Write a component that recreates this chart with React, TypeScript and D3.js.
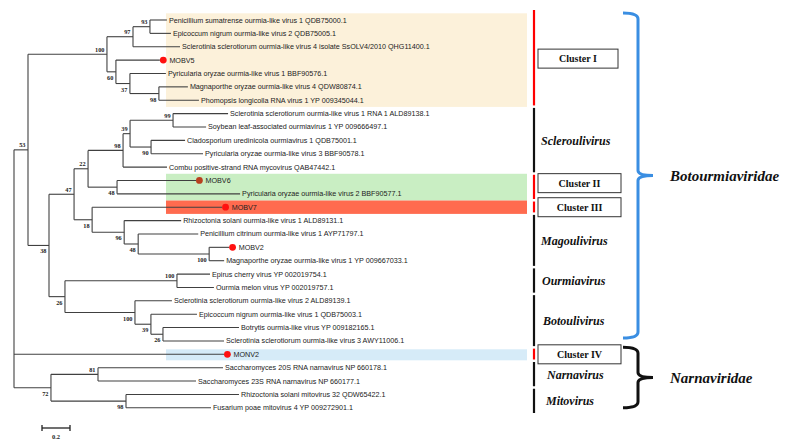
import React from "react";
import * as d3 from "d3";

const W = 789;
const H = 446;

// Phylogenetic tree: each row = one branch (child id, parent id, branch length, bootstrap, label side)
const treeNodes = [
  { id: "root", parent: null, len: 0 },
  { id: "n53", parent: "root", len: 0.1, boot: "53", pos: "a" },
  { id: "n100a", parent: "n53", len: 0.564, boot: "100", pos: "a" },
  { id: "n97", parent: "n100a", len: 0.186, boot: "97", pos: "a" },
  { id: "n93", parent: "n97", len: 0.121, boot: "93", pos: "a" },
  { id: "Penicillium sumatrense ourmia-like virus 1 QDB75000.1", parent: "n93", len: 0.121 },
  { id: "Epicoccum nigrum ourmia-like virus 2 QDB75005.1", parent: "n93", len: 0.15 },
  { id: "Sclerotinia sclerotiorum ourmia-like virus 4 isolate SsOLV4/2010 QHG11400.1", parent: "n97", len: 0.336 },
  { id: "n60", parent: "n100a", len: 0.064, boot: "60", pos: "b" },
  { id: "MOBV5", parent: "n60", len: 0.314 },
  { id: "n37", parent: "n60", len: 0.1, boot: "37", pos: "b" },
  { id: "Pyricularia oryzae ourmia-like virus 1 BBF90576.1", parent: "n37", len: 0.257 },
  { id: "n98a", parent: "n37", len: 0.207, boot: "98", pos: "b" },
  { id: "Magnaporthe oryzae ourmia-like virus 4 QDW80874.1", parent: "n98a", len: 0.207 },
  { id: "Phomopsis longicolla RNA virus 1 YP 009345044.1", parent: "n98a", len: 0.286 },
  { id: "n38", parent: "n53", len: 0.15, boot: "38", pos: "b" },
  { id: "n47", parent: "n38", len: 0.179, boot: "47", pos: "a" },
  { id: "n22", parent: "n47", len: 0.1, boot: "22", pos: "a" },
  { id: "n98c", parent: "n22", len: 0.25, boot: "98", pos: "a" },
  { id: "n39a", parent: "n98c", len: 0.05, boot: "39", pos: "a" },
  { id: "n99", parent: "n39a", len: 0.307, boot: "99", pos: "a" },
  { id: "Sclerotinia sclerotiorum ourmia-like virus 1 RNA 1 ALD89138.1", parent: "n99", len: 0.393 },
  { id: "Soybean leaf-associated ourmiavirus 1 YP 009666497.1", parent: "n99", len: 0.236 },
  { id: "n90", parent: "n39a", len: 0.15, boot: "90", pos: "b" },
  { id: "Cladosporium uredinicola ourmiavirus 1 QDB75001.1", parent: "n90", len: 0.243 },
  { id: "Pyricularia oryzae ourmia-like virus 3 BBF90578.1", parent: "n90", len: 0.371 },
  { id: "Combu positive-strand RNA mycovirus QAB47442.1", parent: "n98c", len: 0.314 },
  { id: "n48a", parent: "n22", len: 0.207, boot: "48", pos: "b" },
  { id: "MOBV6", parent: "n48a", len: 0.564 },
  { id: "Pyricularia oryzae ourmia-like virus 2 BBF90577.1", parent: "n48a", len: 0.879 },
  { id: "n18", parent: "n47", len: 0.129, boot: "18", pos: "b" },
  { id: "MOBV7", parent: "n18", len: 0.929 },
  { id: "n96", parent: "n18", len: 0.229, boot: "96", pos: "b" },
  { id: "Rhizoctonia solani ourmia-like virus 1 ALD89131.1", parent: "n96", len: 0.407 },
  { id: "n48b", parent: "n96", len: 0.1, boot: "48", pos: "b" },
  { id: "Penicillium citrinum ourmia-like virus 1 AYP71797.1", parent: "n48b", len: 0.429 },
  { id: "n100b", parent: "n48b", len: 0.507, boot: "100", pos: "b" },
  { id: "MOBV2", parent: "n100b", len: 0.143 },
  { id: "Magnaporthe oryzae ourmia-like virus 1 YP 009667033.1", parent: "n100b", len: 0.107 },
  { id: "n26a", parent: "n38", len: 0.114, boot: "26", pos: "b" },
  { id: "n100c", parent: "n26a", len: 0.8, boot: "100", pos: "a" },
  { id: "Epirus cherry virus YP 002019754.1", parent: "n100c", len: 0.236 },
  { id: "Ourmia melon virus YP 002019757.1", parent: "n100c", len: 0.264 },
  { id: "n100d", parent: "n26a", len: 0.5, boot: "100", pos: "b" },
  { id: "Sclerotinia sclerotiorum ourmia-like virus 2 ALD89139.1", parent: "n100d", len: 0.264 },
  { id: "n39b", parent: "n100d", len: 0.114, boot: "39", pos: "b" },
  { id: "Epicoccum nigrum ourmia-like virus 1 QDB75003.1", parent: "n39b", len: 0.329 },
  { id: "n26b", parent: "n39b", len: 0.086, boot: "26", pos: "b" },
  { id: "Botrytis ourmia-like virus YP 009182165.1", parent: "n26b", len: 0.543 },
  { id: "Sclerotinia sclerotiorum ourmia-like virus 3 AWY11006.1", parent: "n26b", len: 0.436 },
  { id: "MONV2", parent: "root", len: 1.5 },
  { id: "n72", parent: "root", len: 0.264, boot: "72", pos: "b" },
  { id: "n81", parent: "n72", len: 0.336, boot: "81", pos: "a" },
  { id: "Saccharomyces 20S RNA narnavirus NP 660178.1", parent: "n81", len: 0.893 },
  { id: "Saccharomyces 23S RNA narnavirus NP 660177.1", parent: "n81", len: 0.7 },
  { id: "n98b", parent: "n72", len: 0.536, boot: "98", pos: "b" },
  { id: "Rhizoctonia solani mitovirus 32 QDW65422.1", parent: "n98b", len: 0.807 },
  { id: "Fusarium poae mitovirus 4 YP 009272901.1", parent: "n98b", len: 0.607 },
];

// novel viruses marked with a dot
const novelViruses = ["MOBV5", "MOBV6", "MOBV7", "MOBV2", "MONV2"];
const novelDotColors = ["#ff1010", "#b8401f", "#ff1010", "#ff1010", "#ff1010"];

// highlighted clusters (leaf row ranges)
const clusterNames = ["Cluster I", "Cluster II", "Cluster III", "Cluster IV"];
const clusterRows = [[0, 6], [12, 13], [14, 14], [25, 25]];
const clusterFills = ["#fcf1da", "#c9eec3", "#ff6b4f", "#d6ebf8"];

// genus groups on the right (leaf row ranges)
const genusNames = ["Scleroulivirus", "Magoulivirus", "Ourmiavirus", "Botoulivirus", "Narnavirus", "Mitovirus"];
const genusRows = [[7, 11], [15, 18], [19, 20], [21, 24], [26, 27], [28, 29]];

// families with braces
const familyNames = ["Botourmiaviridae", "Narnaviridae"];
const familyRows = [[0, 24], [25, 29]];
const familyColors = ["#3a8ee2", "#111111"];

const scaleBarValue = 0.2;

export default function App() {
  const root = d3
    .stratify<any>()
    .id((d: any) => d.id)
    .parentId((d: any) => d.parent)(treeNodes as any);

  const x = d3.scaleLinear().domain([0, 1]).range([14, 154]);
  const leaves = root.leaves();
  const y = d3.scaleLinear().domain([0, leaves.length - 1]).range([20, 407.8]);

  const pos = new Map<any, { x: number; y: number; d: number }>();
  root.eachBefore((n: any) => {
    const d = n.parent ? pos.get(n.parent)!.d + n.data.len : 0;
    pos.set(n, { x: x(d), y: 0, d });
  });
  leaves.forEach((l: any, i: number) => {
    pos.get(l)!.y = y(i);
  });
  root.eachAfter((n: any) => {
    if (n.children) {
      const c = n.children;
      pos.get(n)!.y = (pos.get(c[0])!.y + pos.get(c[c.length - 1])!.y) / 2;
    }
  });

  const lineColor = "#404040";
  const branches: JSX.Element[] = [];
  const boots: JSX.Element[] = [];
  const labels: JSX.Element[] = [];

  root.each((n: any) => {
    const p = pos.get(n)!;
    if (n.parent) {
      const pp = pos.get(n.parent)!;
      branches.push(
        <line key={"h" + n.id} x1={pp.x} x2={p.x} y1={p.y} y2={p.y} stroke={lineColor} strokeWidth={1.1} />
      );
    }
    if (n.children) {
      const c = n.children;
      branches.push(
        <line
          key={"v" + n.id}
          x1={p.x}
          x2={p.x}
          y1={pos.get(c[0])!.y}
          y2={pos.get(c[c.length - 1])!.y}
          stroke={lineColor}
          strokeWidth={1.1}
        />
      );
      if (n.data.boot) {
        boots.push(
          <text
            key={"b" + n.id}
            x={p.x - 2.5}
            y={n.data.pos === "a" ? p.y - 2.5 : p.y + 8}
            textAnchor="end"
            fontFamily="'Liberation Serif', serif"
            fontWeight="bold"
            fontSize={6.3}
            fill="#222"
          >
            {n.data.boot}
          </text>
        );
      }
    } else {
      const ni = novelViruses.indexOf(n.id);
      if (ni >= 0) {
        labels.push(
          <g key={"l" + n.id}>
            <circle cx={p.x + 3.4} cy={p.y} r={3.4} fill={novelDotColors[ni]} />
            <text
              x={p.x + 9.5}
              y={p.y}
              dy="0.35em"
              fontFamily="'Liberation Sans', Arial, sans-serif"
              fontSize={7.2}
              fill="#222"
            >
              {n.id}
            </text>
          </g>
        );
      } else {
        labels.push(
          <text
            key={"l" + n.id}
            x={p.x + 2}
            y={p.y}
            dy="0.35em"
            fontFamily="'Liberation Sans', Arial, sans-serif"
            fontSize={7.2}
            fill="#222"
          >
            {n.id}
          </text>
        );
      }
    }
  });

  const rowH = y(1) - y(0);
  const bandX0 = 166;
  const bandX1 = 527;
  const barX = 534;
  const boxX0 = 538;

  // group bars (clusters red, genera black)
  const bars: { r: number[]; color: string }[] = [
    ...clusterRows.map((r) => ({ r, color: "#ff0000" })),
    ...genusRows.map((r) => ({ r, color: "#111" })),
  ];

  const bracePath = (top: number, bot: number) => {
    const x0 = 623;
    const xv = 638;
    const xt = 653;
    const mid = (top + bot) / 2;
    return `M${x0},${top} Q${xv},${top} ${xv},${top + 6} L${xv},${mid - 5} Q${xv},${mid} ${xt},${mid} M${xv},${mid - 5} Q${xv},${mid} ${xt},${mid} Q${xv},${mid} ${xv},${mid + 5} L${xv},${bot - 6} Q${xv},${bot} ${x0},${bot}`;
  };

  const sb0 = 42;
  const sb1 = sb0 + (x(scaleBarValue) - x(0));

  return (
    <svg
      width={W}
      height={H}
      style={{ position: "absolute", left: 0, top: 0, background: "#fff", display: "block" }}
    >
      <rect x={0} y={0} width={W} height={H} fill="#fff" />
      {/* highlight bands */}
      {clusterRows.map((r, i) => {
        const pad = i === 3 ? 5 : rowH / 2;
        return (
          <rect
            key={"band" + i}
            x={bandX0}
            y={y(r[0]) - pad}
            width={bandX1 - bandX0}
            height={y(r[1]) - y(r[0]) + pad * 2 + (i === 3 ? 1 : 0)}
            fill={clusterFills[i]}
          />
        );
      })}
      <g>{branches}</g>
      <g>{boots}</g>
      <g>{labels}</g>

      {/* right-side bars */}
      {bars.map((b, i) => {
        const top = i === 0 ? y(b.r[0]) - 10 : y(b.r[0]) - rowH / 2 + 1;
        const bot = y(b.r[1]) + rowH / 2 - 1.5;
        return <line key={"bar" + i} x1={barX} x2={barX} y1={top} y2={bot} stroke={b.color} strokeWidth={2.2} />;
      })}

      {/* cluster boxes */}
      {clusterNames.map((name, i) => {
        const r = clusterRows[i];
        const cy = (y(r[0]) + y(r[1])) / 2 - (i === 1 ? 4 : 0) - (i === 0 ? 1.5 : 0);
        const w = i === 0 ? 80 : 83;
        return (
          <g key={"box" + i}>
            <rect x={boxX0} y={cy - 9.5} width={w} height={19} fill="#fff" stroke="#333" strokeWidth={1} />
            <text
              x={boxX0 + w / 2}
              y={cy}
              dy="0.35em"
              textAnchor="middle"
              fontFamily="'Liberation Serif', 'Times New Roman', serif"
              fontWeight="bold"
              fontSize={10}
              fill="#111"
            >
              {name}
            </text>
          </g>
        );
      })}

      {/* genus labels */}
      {genusNames.map((name, i) => {
        const r = genusRows[i];
        const cy = (y(r[0]) + y(r[1])) / 2;
        const gx = [541, 541, 542, 543, 547, 546][i];
        return (
          <text
            key={"g" + i}
            x={gx}
            y={cy}
            dy="0.35em"
            fontFamily="'Liberation Serif', 'Times New Roman', serif"
            fontWeight="bold"
            fontStyle="italic"
            fontSize={12}
            fill="#111"
          >
            {name}
          </text>
        );
      })}

      {/* family braces */}
      {familyNames.map((name, i) => {
        const r = familyRows[i];
        const top = y(r[0]) - 7;
        const bot = i === 0 ? y(r[1]) - 3 : y(r[1]);
        const mid = (top + bot) / 2;
        return (
          <g key={"f" + i}>
            <path d={bracePath(top, bot)} fill="none" stroke={familyColors[i]} strokeWidth={3} />
            <text
              x={670}
              y={mid}
              dy="0.35em"
              fontFamily="'Liberation Serif', 'Times New Roman', serif"
              fontWeight="bold"
              fontStyle="italic"
              fontSize={15}
              fill="#111"
            >
              {name}
            </text>
          </g>
        );
      })}

      {/* scale bar */}
      <g stroke="#222" strokeWidth={1.3}>
        <line x1={sb0} x2={sb1} y1={428} y2={428} />
        <line x1={sb0} x2={sb0} y1={425} y2={431} />
        <line x1={sb1} x2={sb1} y1={425} y2={431} />
      </g>
      <text
        x={(sb0 + sb1) / 2}
        y={439}
        textAnchor="middle"
        fontFamily="'Liberation Serif', serif"
        fontWeight="bold"
        fontSize={6.5}
        fill="#222"
      >
        {String(scaleBarValue)}
      </text>
    </svg>
  );
}
